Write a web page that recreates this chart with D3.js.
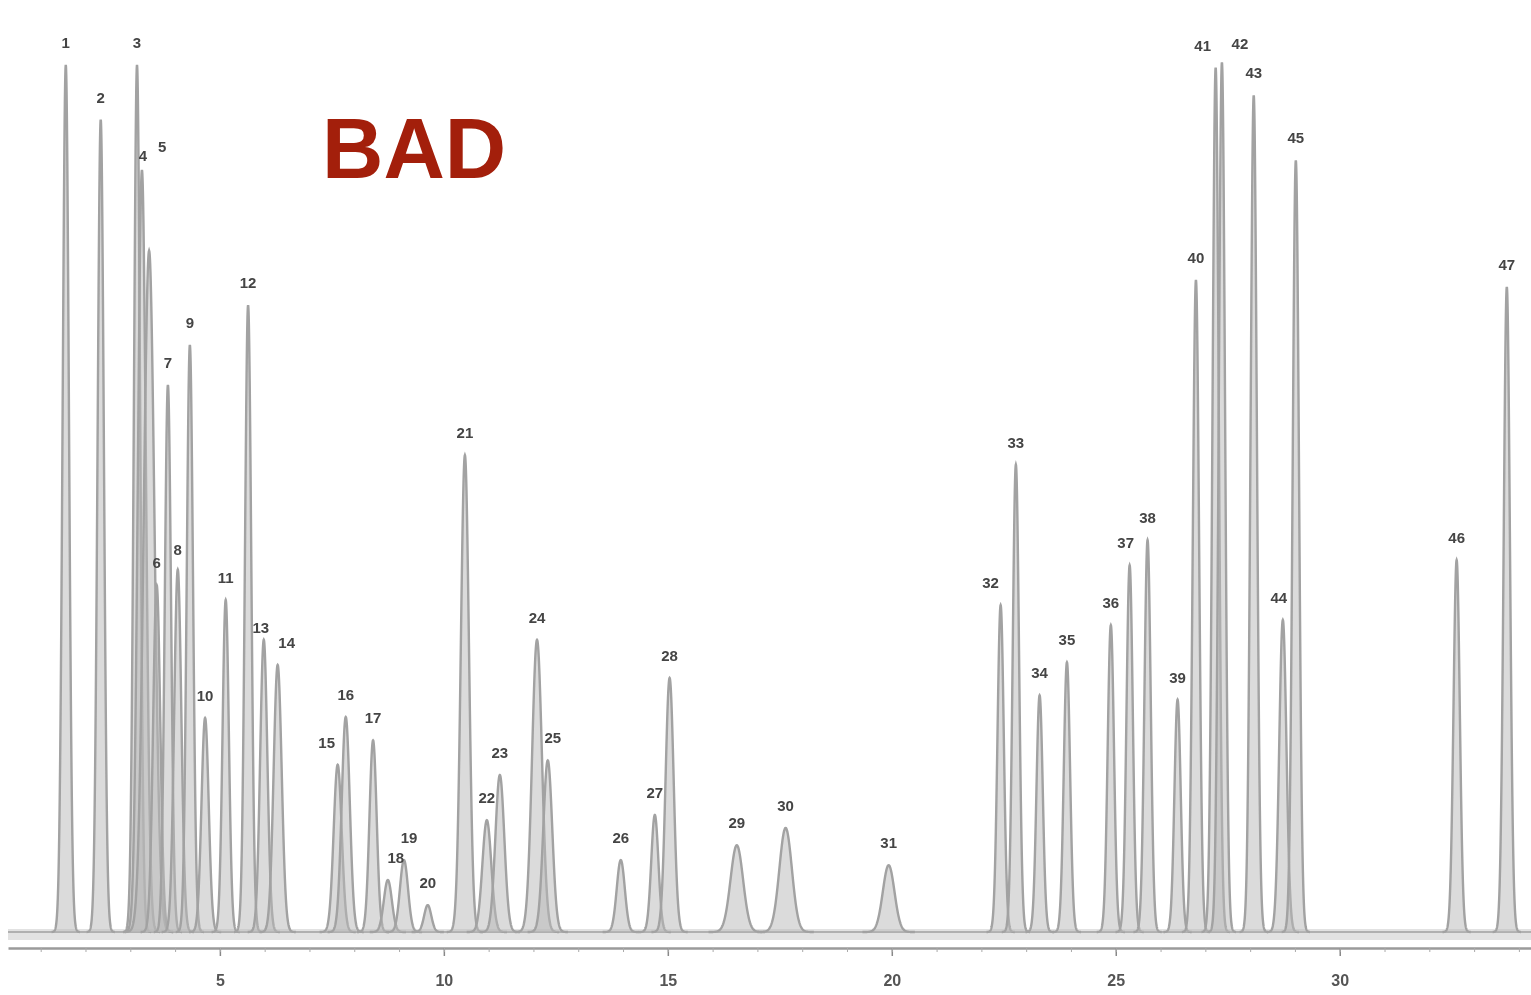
<!DOCTYPE html>
<html>
<head>
<meta charset="utf-8">
<script src="https://cdn.jsdelivr.net/npm/d3@7"></script>
<style>
  html, body { margin: 0; padding: 0; background: #ffffff; }
  svg { display: block; }
</style>
</head>
<body>
<svg id="chart" width="1531" height="995"></svg>
<script>
// ---- Data ----
const peakLabels = ["1","2","3","4","5","6","7","8","9","10","11","12","13","14","15","16","17","18","19","20",
  "21","22","23","24","25","26","27","28","29","30","31","32","33","34","35","36","37","38","39","40",
  "41","42","43","44","45","46","47"];
// retention times (min)
const peakTimes = [1.56,2.34,3.15,3.26,3.42,3.59,3.84,4.06,4.33,4.67,5.13,5.63,5.98,6.29,7.63,7.81,8.42,8.75,9.11,9.64,
  10.47,10.96,11.25,12.08,12.32,13.95,14.71,15.04,16.54,17.63,19.93,22.43,22.77,23.30,23.91,24.89,25.31,25.71,26.38,26.79,
  27.23,27.37,28.08,28.73,29.02,32.61,33.73];
// peak heights (relative response)
const peakHeights = [100,93.7,100,87.9,78.6,40.0,63.1,41.8,67.7,24.7,38.3,72.3,33.7,30.8,19.3,24.8,22.1,6.0,8.3,3.1,
  55.0,12.9,18.1,33.7,19.8,8.3,13.5,29.3,10.0,12.0,7.7,37.7,53.9,27.3,31.1,35.4,42.3,45.2,26.8,75.2,
  99.7,100.3,96.5,36.0,89.0,42.9,74.4];
// peak widths (sigma, min)
const peakWidths = [0.07,0.07,0.07,0.09,0.12,0.08,0.07,0.08,0.07,0.08,0.07,0.07,0.08,0.09,0.09,0.09,0.08,0.09,0.09,0.08,
  0.09,0.1,0.1,0.11,0.1,0.09,0.08,0.09,0.14,0.14,0.13,0.07,0.07,0.07,0.07,0.07,0.07,0.07,0.07,0.07,
  0.07,0.07,0.07,0.08,0.07,0.07,0.07];
const xTicks = [5,10,15,20,25,30];
const timeRange = [0.27, 34.27];
const watermark = "BAD";

// ---- Rendering ----
const svg = d3.select("#chart");
const x = d3.scaleLinear().domain(timeRange).range([8, 1531]);
const y = d3.scaleLinear().domain([0, 100]).range([932, 65]);

const defs = svg.append("defs");
defs.append("filter").attr("id", "soft")
  .append("feGaussianBlur").attr("stdDeviation", 0.7);

const peaks = peakLabels.map((l, i) => ({label: l, t: peakTimes[i], h: peakHeights[i], s: peakWidths[i]}));

const g = svg.append("g").attr("filter", "url(#soft)");

// baseline band
g.append("rect").attr("x", x(timeRange[0])).attr("width", x(timeRange[1]) - x(timeRange[0]))
  .attr("y", y(0) - 3).attr("height", 11).attr("fill", "#e2e2e2");
g.append("line").attr("x1", x(timeRange[0])).attr("x2", x(timeRange[1]))
  .attr("y1", y(0)).attr("y2", y(0)).attr("stroke", "#b0b0b0").attr("stroke-width", 2);

// each peak drawn on its own (overlapping, as on the recorder trace)
const area = d3.area().x(d => x(d[0])).y0(y(0)).y1(d => y(d[1]));
const line = d3.line().x(d => x(d[0])).y(d => y(d[1]));
peaks.forEach(p => {
  const pts = d3.range(-4.5, 4.5001, 0.05).map(z => [p.t + z * p.s, p.h * Math.exp(-0.5 * z * z)]);
  g.append("path").datum(pts).attr("d", area).attr("fill", "#b8b8b8").attr("fill-opacity", 0.5);
  g.append("path").datum(pts).attr("d", line)
    .attr("fill", "none").attr("stroke", "#a2a2a2").attr("stroke-width", 2.4);
});

// x axis
const axis = d3.axisBottom(x).tickValues(xTicks).tickFormat(d3.format("d"))
  .tickSize(8).tickSizeOuter(0).tickPadding(19);
const ax = g.append("g").attr("transform", "translate(0,948)").call(axis);
ax.select(".domain").attr("stroke", "#9a9a9a").attr("stroke-width", 2.5);
ax.selectAll(".tick line").attr("stroke", "#888").attr("stroke-width", 1.5);
ax.selectAll(".tick text").attr("fill", "#555").attr("font-size", 16)
  .attr("font-family", "Liberation Sans, Arial, sans-serif").attr("font-weight", "bold");
// minor ticks each minute
const minor = d3.axisBottom(x).tickValues(d3.range(1, 35)).tickFormat("").tickSize(4).tickSizeOuter(0);
const mx = g.append("g").attr("transform", "translate(0,948)").call(minor);
mx.select(".domain").remove();
mx.selectAll(".tick line").attr("stroke", "#aaa").attr("stroke-width", 1);

// peak labels
const nudge = {"4":[1,8], "5":[13,-82], "8":[0,2], "14":[9,0], "15":[-11,0], "18":[8,0], "19":[5,0],
  "25":[5,0], "32":[-10,0], "37":[-4,0], "41":[-13,0], "42":[18,4], "44":[-4,0], "13":[-3,10]};
g.selectAll("text.pk").data(peaks).enter().append("text")
  .attr("class", "pk")
  .attr("x", d => x(d.t) + (nudge[d.label] ? nudge[d.label][0] : 0))
  .attr("y", d => y(d.h) - 17 + (nudge[d.label] ? nudge[d.label][1] : 0))
  .attr("text-anchor", "middle")
  .attr("font-family", "Liberation Sans, Arial, sans-serif")
  .attr("font-size", 15).attr("font-weight", "bold")
  .attr("fill", "#444")
  .text(d => d.label);

// watermark
svg.append("text").attr("x", 322).attr("y", 178)
  .attr("font-family", "Liberation Sans, Arial, sans-serif")
  .attr("font-weight", "bold").attr("font-size", 85)
  .attr("fill", "#a31f0b").text(watermark);
</script>
</body>
</html>
